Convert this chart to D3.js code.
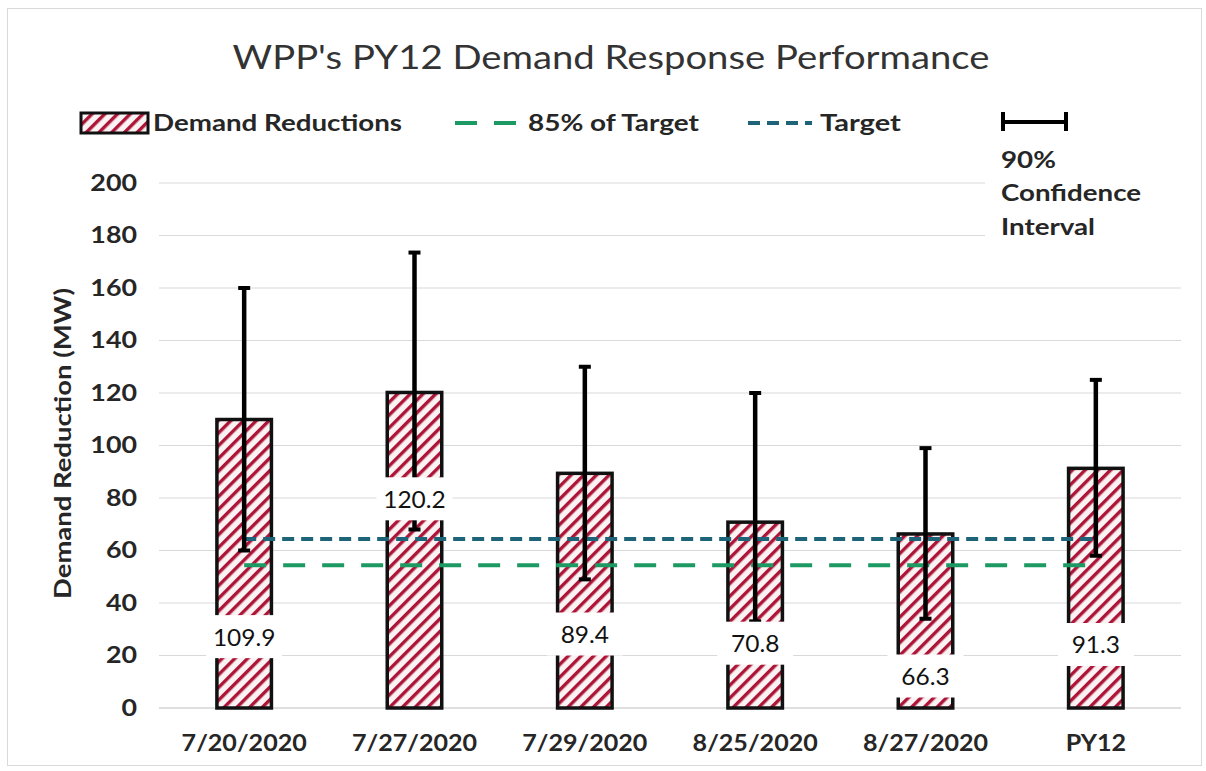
<!DOCTYPE html>
<html>
<head>
<meta charset="utf-8">
<script src="https://cdn.jsdelivr.net/npm/d3@7"></script>
<style>
  html, body { margin: 0; padding: 0; background: #fff; }
  svg { display: block; }
  text { font-family: Lato, "Open Sans", sans-serif; }
</style>
</head>
<body>
<svg id="chart" width="1206" height="771"></svg>
<script>
// ---- data ----
const categories = ["7/20/2020", "7/27/2020", "7/29/2020", "8/25/2020", "8/27/2020", "PY12"];
const reductions = [109.9, 120.2, 89.4, 70.8, 66.3, 91.3];
const ciUpper = [160, 173.5, 130, 120, 99, 125];
const ciLower = [60, 68, 49, 33, 34, 58];
const labelAt = [27, 79.5, 28, 24.5, 12, 24];   // where the value label sits (MW)
const target = 64.4;
const target85 = 54.4;
const yTicks = [0, 20, 40, 60, 80, 100, 120, 140, 160, 180, 200];

const svg = d3.select("#chart");
const W = 1206, H = 771;
const pL = 159, pR = 1181, pT = 183, pB = 708;

// text helper: horizontally stretched text (reference font is wide)
function txt(parent, x, y, str, opt) {
  const o = Object.assign({ size: 22, weight: "bold", sx: 1.25, anchor: "start", fill: "#262626", rot: 0 }, opt || {});
  const g = parent.append("g").attr("transform", `translate(${x},${y}) rotate(${o.rot}) scale(${o.sx},1)`);
  return g.append("text").attr("x", 0).attr("y", 0).attr("dy", "0.35em")
    .attr("text-anchor", o.anchor).attr("font-size", o.size).attr("font-weight", o.weight)
    .attr("fill", o.fill).text(str);
}

svg.append("rect").attr("x", 7.5).attr("y", 8.5).attr("width", W - 12).attr("height", H - 14)
  .attr("fill", "#fff").attr("stroke", "#d9d9d9").attr("stroke-width", 1);

// hatch pattern
const defs = svg.append("defs");
const pat = defs.append("pattern").attr("id", "hatch").attr("patternUnits", "userSpaceOnUse")
  .attr("width", 9).attr("height", 9).attr("patternTransform", "rotate(45)");
pat.append("rect").attr("width", 9).attr("height", 9).attr("fill", "#fbf3f3");
pat.append("rect").attr("x", 0).attr("y", 0).attr("width", 3.4).attr("height", 9).attr("fill", "#ad1538");

const x = d3.scaleBand().domain(categories).range([pL, pR]).paddingInner(0.68).paddingOuter(0.34);
const y = d3.scaleLinear().domain([0, 200]).range([pB, pT]);

// gridlines
svg.append("g").selectAll("line").data(yTicks.filter(d => d > 0)).join("line")
  .attr("x1", pL).attr("x2", pR)
  .attr("y1", d => y(d)).attr("y2", d => y(d))
  .attr("stroke", "#d9d9d9").attr("stroke-width", 1);
svg.append("line").attr("x1", pL).attr("x2", pR).attr("y1", y(0)).attr("y2", y(0))
  .attr("stroke", "#bfbfbf").attr("stroke-width", 1);

// y tick labels
const yt = svg.append("g");
yTicks.forEach(d => txt(yt, 137, y(d), d, { anchor: "end", sx: 1.22 }));

// y axis title
txt(svg, 63, (pT + pB) / 2 - 2, "Demand Reduction (MW)", { anchor: "middle", rot: -90, sx: 1.22, size: 22.5 });

// x labels
const xt = svg.append("g");
categories.forEach(c => txt(xt, x(c) + x.bandwidth() / 2, 743, c, { anchor: "middle", sx: 1.14 }));

// bars
svg.append("g").selectAll("rect").data(categories).join("rect")
  .attr("x", d => x(d)).attr("width", x.bandwidth())
  .attr("y", (d, i) => y(reductions[i])).attr("height", (d, i) => y(0) - y(reductions[i]))
  .attr("fill", "url(#hatch)").attr("stroke", "#111").attr("stroke-width", 3.5);

// target lines
const xFirst = x(categories[0]) + x.bandwidth() / 2;
const xLast = x(categories[categories.length - 1]) + x.bandwidth() / 2;
svg.append("line").attr("x1", xFirst).attr("x2", xLast).attr("y1", y(target)).attr("y2", y(target))
  .attr("stroke", "#1d6478").attr("stroke-width", 4).attr("stroke-dasharray", "12,7");
svg.append("line").attr("x1", xFirst).attr("x2", xLast).attr("y1", y(target85)).attr("y2", y(target85))
  .attr("stroke", "#1d9a63").attr("stroke-width", 4).attr("stroke-dasharray", "22,17");

// error bars
const eb = svg.append("g");
categories.forEach((c, i) => {
  const cx = x(c) + x.bandwidth() / 2;
  eb.append("line").attr("x1", cx).attr("x2", cx).attr("y1", y(ciUpper[i])).attr("y2", y(ciLower[i]))
    .attr("stroke", "#000").attr("stroke-width", 4.5);
  [ciUpper[i], ciLower[i]].forEach(v => {
    eb.append("line").attr("x1", cx - 6).attr("x2", cx + 6).attr("y1", y(v)).attr("y2", y(v))
      .attr("stroke", "#000").attr("stroke-width", 4);
  });
});

// value labels
const lb = svg.append("g");
categories.forEach((c, i) => {
  const cx = x(c) + x.bandwidth() / 2;
  const cy = y(labelAt[i]);
  lb.append("rect").attr("x", cx - 38).attr("y", cy - 22).attr("width", 76).attr("height", 43).attr("fill", "#fff");
  txt(lb, cx, cy, reductions[i].toFixed(1), { anchor: "middle", weight: "normal", size: 24, sx: 1.02, fill: "#111" });
});

// title
txt(svg, 611, 57, "WPP's PY12 Demand Response Performance", { anchor: "middle", weight: "normal", size: 33, sx: 1.16, fill: "#333" });

// legend
const lg = svg.append("g");
lg.append("rect").attr("x", 81).attr("y", 113).attr("width", 67).attr("height", 20)
  .attr("fill", "url(#hatch)").attr("stroke", "#111").attr("stroke-width", 3);
txt(lg, 153, 123, "Demand Reductions", { sx: 1.26 });
lg.append("line").attr("x1", 455).attr("x2", 521).attr("y1", 123).attr("y2", 123)
  .attr("stroke", "#1d9a63").attr("stroke-width", 4).attr("stroke-dasharray", "22,17");
txt(lg, 528, 123, "85% of Target", { sx: 1.27 });
lg.append("line").attr("x1", 748).attr("x2", 812).attr("y1", 123).attr("y2", 123)
  .attr("stroke", "#1d6478").attr("stroke-width", 4).attr("stroke-dasharray", "12,7");
txt(lg, 820, 123, "Target", { sx: 1.32 });
lg.append("line").attr("x1", 1002).attr("x2", 1067).attr("y1", 122).attr("y2", 122).attr("stroke", "#000").attr("stroke-width", 4);
lg.append("line").attr("x1", 1003).attr("x2", 1003).attr("y1", 112).attr("y2", 131).attr("stroke", "#000").attr("stroke-width", 4);
lg.append("line").attr("x1", 1066).attr("x2", 1066).attr("y1", 112).attr("y2", 131).attr("stroke", "#000").attr("stroke-width", 4);
lg.append("rect").attr("x", 985).attr("y", 145).attr("width", 196).attr("height", 97).attr("fill", "#fff");
["90%", "Confidence", "Interval"].forEach((t, i) => txt(lg, 1001, 160 + i * 33.5, t, { sx: 1.26 }));
</script>
</body>
</html>
